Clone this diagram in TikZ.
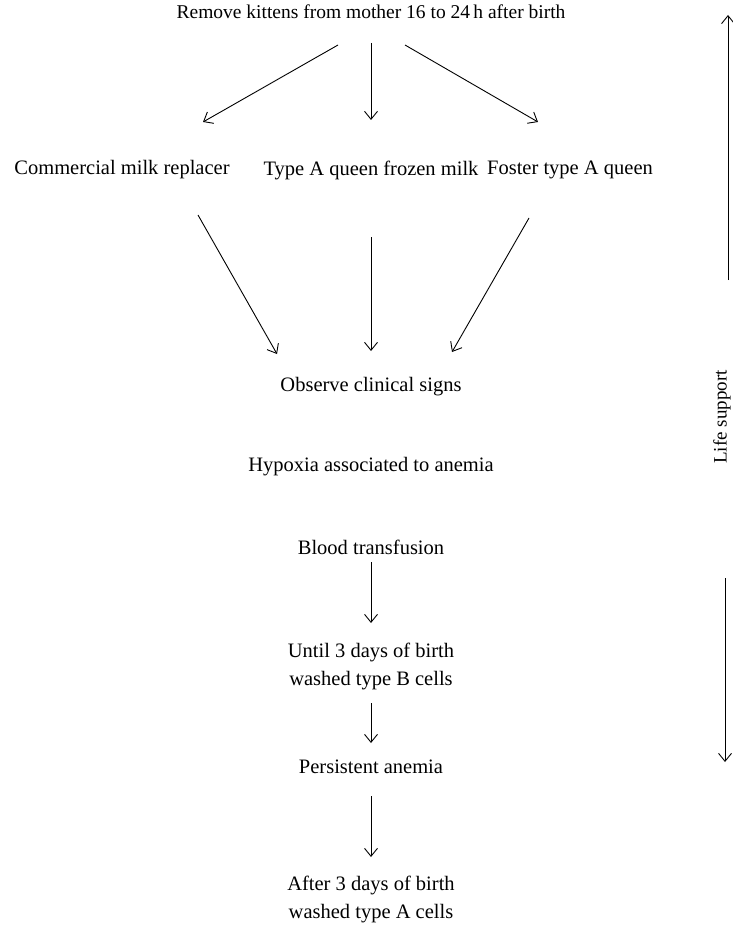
\documentclass[tikz,border=0pt]{standalone}
\usepackage{fontspec}
\setmainfont{Liberation Serif}
\usetikzlibrary{arrows.meta}

\begin{document}
\begin{tikzpicture}[x=1pt, y=-1pt,
        every node/.style={font=\fontsize{20.5}{28}\selectfont, align=center, inner sep=0pt},
        arrowLine/.style={-{Straight Barb[length=8pt, width=13pt]}, line width=0.9pt}]
            \useasboundingbox (0, 0) rectangle (732, 925);

            \node[font=\fontsize{19.5}{28}\selectfont] (remove) at (371, 12) {Remove kittens from mother 16 to 24\,h after birth};
            \node[] (milkReplacer) at (122, 170) {Commercial milk replacer};
            \node[] (frozenMilk) at (371, 170) {Type A queen frozen milk};
            \node[] (fosterQueen) at (570, 170) {Foster type A queen};
            \node[] (observe) at (371, 387) {Observe clinical signs};
            \node[] (hypoxia) at (371, 467) {Hypoxia associated to anemia};
            \node[] (transfusion) at (371, 547) {Blood transfusion};
            \node[] (typeB) at (371, 666) {Until 3 days of birth\\washed type B cells};
            \node[] (persistent) at (371, 767) {Persistent anemia};
            \node[] (typeA) at (371, 899) {After 3 days of birth\\washed type A cells};
            \node[rotate=90, font=\fontsize{19}{24}\selectfont] (lifeSupport) at (722, 417) {Life support};
            \coordinate (upEnd) at (728, 15);
            \coordinate (downEnd) at (725, 762);

            \foreach \nTo/\xa/\ya/\xb/\yb in {milkReplacer/-33/33/81/-48, frozenMilk/0/31/0/-50, fosterQueen/34/33/-32/-48}
                \draw[arrowLine] ([shift={(\xa, \ya)}]remove.center) -- ([shift={(\xb, \yb)}]\nTo.center);

            \foreach \nFrom/\xa/\ya/\xb/\yb in {milkReplacer/76/45/-94/-33, frozenMilk/0/67/0/-36, fosterQueen/-41/48/81/-35}
                \draw[arrowLine] ([shift={(\xa, \ya)}]\nFrom.center) -- ([shift={(\xb, \yb)}]observe.center);

            \foreach \nFrom/\nTo/\ya/\yb in {transfusion/typeB/15/-43, typeB/persistent/37/-24, persistent/typeA/29/-42}
                \draw[arrowLine] ([shift={(0, \ya)}]\nFrom.center) -- ([shift={(0, \yb)}]\nTo.center);

            \draw[arrowLine] ([shift={(6, -137)}]lifeSupport.center) -- (upEnd);
            \draw[arrowLine] ([shift={(3, 161)}]lifeSupport.center) -- (downEnd);
        \end{tikzpicture}
\end{document}
